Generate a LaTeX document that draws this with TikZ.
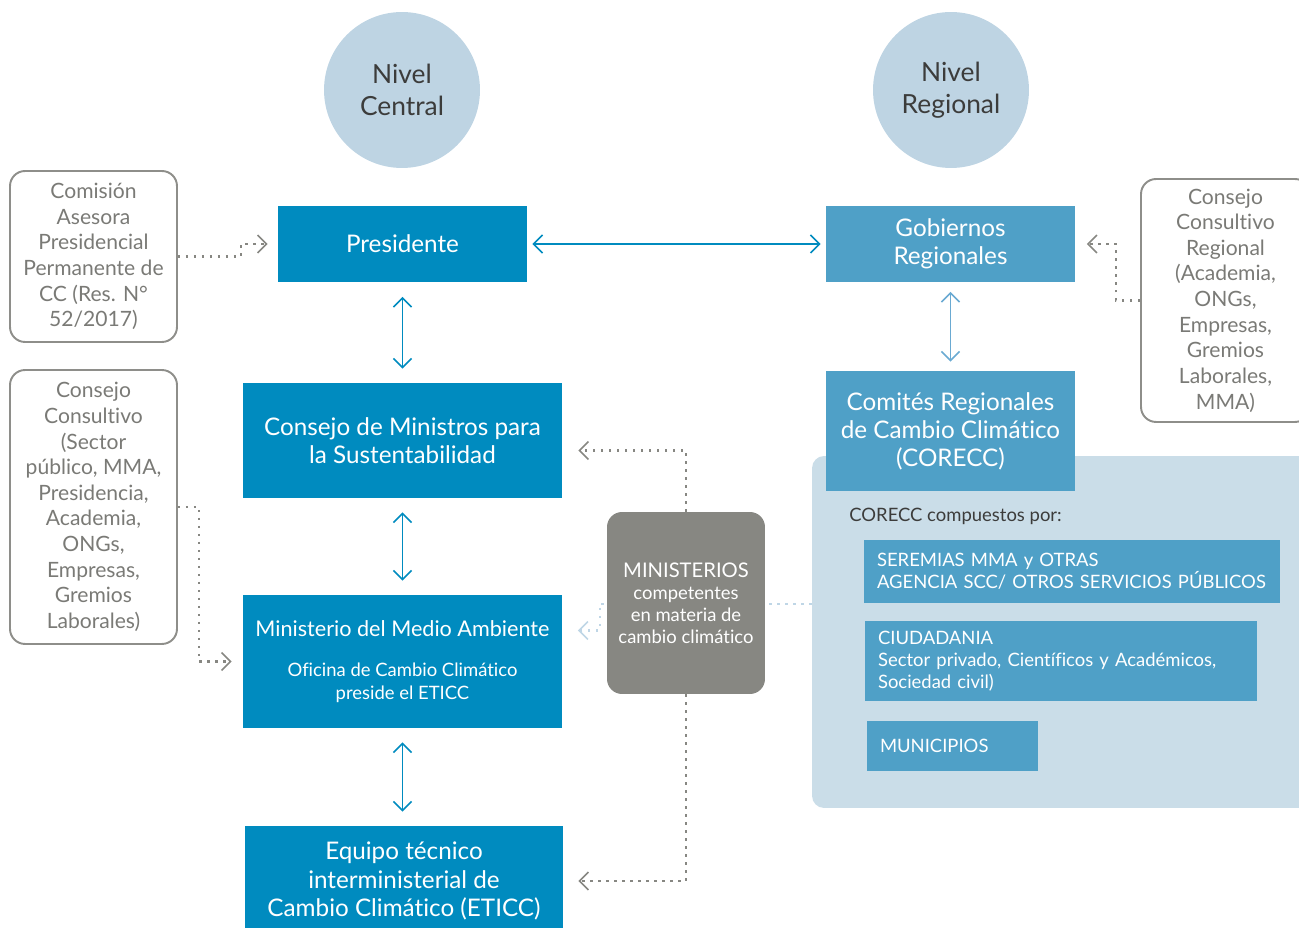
\documentclass[tikz,border=0pt]{standalone}
\usepackage{fontspec}
\setmainfont{Lato}[Ligatures=NoCommon]
\usepackage{tikz}
\usetikzlibrary{arrows.meta,positioning,backgrounds,calc}
\definecolor{azul}{HTML}{008BBF}
\definecolor{azulreg}{HTML}{4FA0C7}
\definecolor{azulflecha}{HTML}{6AAAD2}
\definecolor{azulpanel}{HTML}{CADDE8}
\definecolor{azulpunto}{HTML}{BFD6E6}
\definecolor{circulo}{HTML}{BED4E3}
\definecolor{gris}{HTML}{878782}
\definecolor{grisborde}{HTML}{8E8E8A}
\definecolor{gristexto}{HTML}{7A7A76}
\definecolor{oscuro}{HTML}{3C3C3B}
\newcommand{\chica}{\fontsize{10.5}{12.5}\selectfont}

\begin{document}
\begin{tikzpicture}[x=0.02cm,y=-0.02cm,
  nivel/.style={circle,fill=circulo,minimum size=3.12cm,align=center,text=oscuro,inner sep=0pt,font=\fontsize{15}{18}\selectfont},
  central/.style={rectangle,fill=azul,text=white,align=center,inner sep=0pt,font=\fontsize{13.8}{16}\selectfont},
  regional/.style={central,fill=azulreg},
  consejo/.style={rectangle,rounded corners=0.3cm,draw=grisborde,line width=1.1pt,text=gristexto,align=center,inner sep=0pt,font=\fontsize{12}{14.6}\selectfont},
  ministerios/.style={rectangle,rounded corners=0.3cm,fill=gris,text=white,align=center,inner sep=0pt,font=\chica},
  miembro/.style={rectangle,fill=azulreg,text=white,align=left,inner xsep=0.26cm,inner ysep=0pt,font=\chica},
  doble/.style={{Straight Barb[length=0.18cm,width=0.36cm]}-{Straight Barb[length=0.18cm,width=0.36cm]},line width=0.95pt,azul,shorten <=0.28cm,shorten >=0.28cm},
  punteado/.style={-{Straight Barb[length=0.18cm,width=0.36cm,line width=0.9pt]},gris,line width=0.045cm,dash pattern=on 0.045cm off 0.115cm}]
  \useasboundingbox (0,0) rectangle (1299,928);
  \node[nivel] (nc) at (402,90) {Nivel\\Central};
  \node[nivel] (nr) at (951,90) {Nivel\\Regional};
  \node[central,minimum width=4.98cm,minimum height=1.54cm] (pres) at (402.5,244) {Presidente};
  \node[central,minimum width=6.38cm,minimum height=2.3cm] (cm) at (402.5,440.5) {Consejo de Ministros para\\la Sustentabilidad};
  \node[central,minimum width=6.38cm,minimum height=2.66cm,font=\fontsize{12.3}{16}\selectfont] (mma) at (402.5,661.5) {Ministerio del Medio Ambiente\\[7pt]{\chica Oficina de Cambio Climático}\\[-3pt]{\chica preside el ETICC}};
  \node[central,minimum width=6.36cm,minimum height=2.2cm] (eticc) at (404,881) {Equipo técnico\\interministerial de\\Cambio Climático (ETICC)};
  \node[regional,minimum width=4.98cm,minimum height=1.54cm] (gob) at (950.5,244) {Gobiernos\\Regionales};
  \node[regional,minimum width=4.98cm,minimum height=2.4cm] (corecc) at (950.5,431) {Comités Regionales\\de Cambio Climático\\(CORECC)};
  \node[consejo,minimum width=3.34cm,minimum height=3.42cm] (com) at (93.5,256.5) {Comisión\\Asesora\\Presidencial\\Permanente de\\CC (Res. N°\\52/2017)};
  \node[consejo,minimum width=3.34cm,minimum height=5.48cm] (cc) at (93.5,507) {Consejo\\Consultivo\\(Sector\\público, MMA,\\Presidencia,\\Academia,\\ONGs,\\Empresas,\\Gremios\\Laborales)};
  \node[consejo,minimum width=3.38cm,minimum height=4.86cm] (ccr) at (1225.5,300.5) {Consejo\\Consultivo\\Regional\\(Academia,\\ONGs,\\Empresas,\\Gremios\\Laborales,\\MMA)};
  \node[ministerios,minimum width=3.16cm,minimum height=3.64cm] (min) at (686,603) {{\fontsize{11.5}{13}\selectfont MINISTERIOS}\\competentes\\en materia de\\cambio climático};
  \node[anchor=west,text=oscuro,font=\chica,inner sep=0pt] (comp) at (849,516) {CORECC compuestos por:};
  \node[miembro,text width=7.8cm,minimum height=1.26cm] (ser) at (1072,571.5) {SEREMIAS MMA y OTRAS\\AGENCIA SCC/ OTROS SERVICIOS PÚBLICOS};
  \node[miembro,text width=7.32cm,minimum height=1.6cm] (ciud) at (1061,661) {CIUDADANIA\\Sector privado, Científicos y Académicos,\\Sociedad civil)};
  \node[miembro,text width=2.9cm,minimum height=1cm] (muni) at (952.5,746) {MUNICIPIOS};
  \begin{scope}[on background layer]
    \node[fill=azulpanel,rounded corners=0.24cm,minimum width=10.16cm,minimum height=7.04cm,inner sep=0pt] (panel) at (1066,632) {};
    \draw[punteado,azulpunto,shorten >=0.31cm] ([yshift=0.56cm]panel.west) -- ++(-212,0) |- ([yshift=0.62cm]mma.east);
  \end{scope}
  \draw[doble,shorten <=0.1cm,shorten >=0.1cm] (pres.east) -- (pres.east -| gob.west);
  \foreach \a/\b in {pres/cm,cm/mma,mma/eticc} \draw[doble] (\a.south) -- (\a.south |- \b.north);
  \draw[doble,azulflecha,shorten <=0.18cm,shorten >=0.18cm] (gob.south) -- (gob.south |- corecc.north);
  \draw[punteado,shorten >=0.2cm] (com.east) -- ++(63,0) |- (pres.west);
  \draw[punteado,shorten >=0.22cm] (cc.east) -- ++(21,0) |- (mma.west);
  \draw[punteado,shorten >=0.23cm] (ccr.west) -- ++(-24,0) |- (gob.east);
  \draw[punteado,shorten >=0.32cm] (min.north) |- ([yshift=-0.2cm]cm.east);
  \draw[punteado,shorten >=0.3cm] (min.south) |- (eticc.east);
\end{tikzpicture}
\end{document}
